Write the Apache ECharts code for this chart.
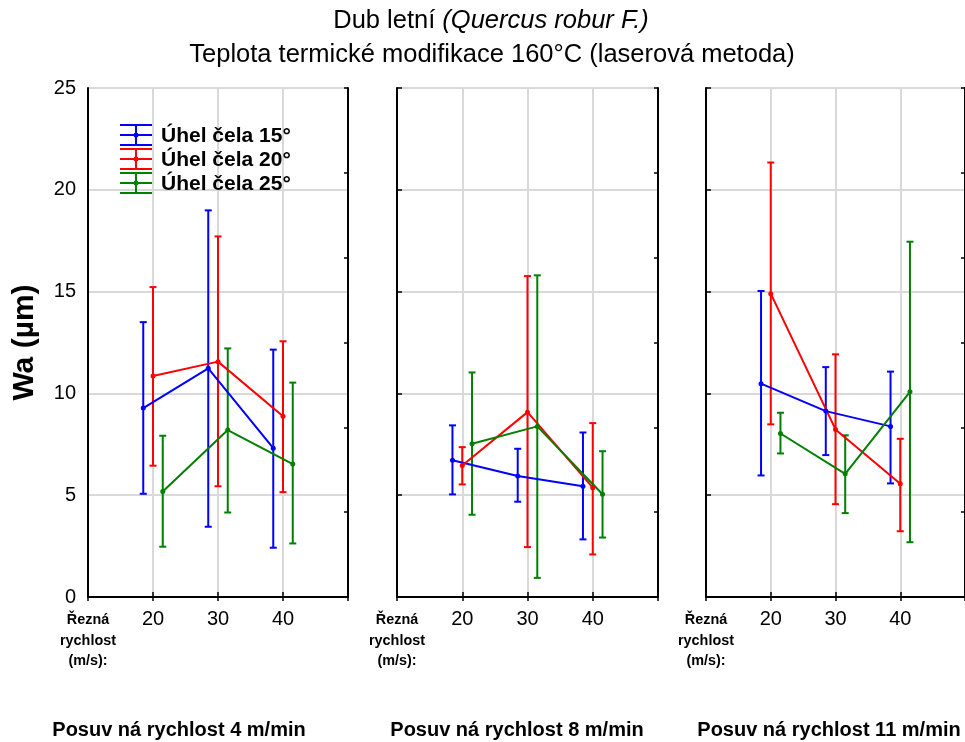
<!DOCTYPE html>
<html>
<head>
<meta charset="utf-8">
<script src="https://cdn.jsdelivr.net/npm/echarts@6/dist/echarts.min.js"></script>
<style>
  html, body { margin: 0; padding: 0; background: #fff; }
  #chart { width: 965px; height: 742px; }
</style>
</head>
<body>
<div id="chart"></div>
<script>
// rezna rychlost (m/s) - kategorie na ose x
var speeds = [20, 30, 40];
var feedLabels = ['Posuv ná rychlost 4 m/min', 'Posuv ná rychlost 8 m/min', 'Posuv ná rychlost 11 m/min'];
var angleNames = ['Úhel čela 15°', 'Úhel čela 20°', 'Úhel čela 25°'];
var yTicks = [0, 5, 10, 15, 20, 25];

// prumery a meze chyb, [uhel][rychlost]
var mean4 = [[9.28, 11.23, 7.31], [10.85, 11.56, 8.88], [5.18, 8.20, 6.53]];
var high4 = [[13.50, 18.99, 12.15], [15.22, 17.71, 12.56], [7.92, 12.21, 10.53]];
var low4 = [[5.07, 3.45, 2.42], [6.45, 5.44, 5.15], [2.47, 4.15, 2.63]];

var mean8 = [[6.72, 5.94, 5.44], [6.46, 9.08, 5.37], [7.53, 8.38, 5.05]];
var high8 = [[8.43, 7.28, 8.08], [7.36, 15.76, 8.54], [11.03, 15.80, 7.16]];
var low8 = [[5.04, 4.68, 2.83], [5.53, 2.45, 2.09], [4.04, 0.94, 2.92]];

var mean11 = [[10.48, 9.13, 8.38], [14.90, 8.23, 5.56], [8.03, 6.05, 10.08]];
var high11 = [[15.03, 11.29, 11.07], [21.34, 11.92, 7.77], [9.05, 7.94, 17.45]];
var low11 = [[5.97, 6.97, 5.58], [8.48, 4.56, 3.23], [7.05, 4.12, 2.69]];

var panels = [
    {mean: mean4, high: high4, low: low4},
    {mean: mean8, high: high8, low: low8},
    {mean: mean11, high: high11, low: low11}
];

var colors = ['#0000ff', '#ff0000', '#008000'];
var dodge = [-1.5, 0, 1.5];   // posun skupin vedle sebe
var font = 'Liberation Sans, Arial, sans-serif';

// rozlozeni panelu
var gridLeft = [88, 397, 706], gridW = [260, 261, 262], gridTop = 88, gridH = 509;
var footCenter = [179, 517, 829];

var myChart = echarts.init(document.getElementById('chart'));

var grids = [], xAxes = [], yAxes = [], series = [], graphics = [];

function errorRender(params, api) {
    var x = api.value(0);
    var top = api.coord([x, api.value(2)]);
    var bot = api.coord([x, api.value(1)]);
    var cap = 3.5;
    var style = {stroke: api.visual('color'), lineWidth: 2};
    return {
        type: 'group',
        children: [
            {type: 'line', shape: {x1: top[0], y1: top[1], x2: bot[0], y2: bot[1]}, style: style},
            {type: 'line', shape: {x1: top[0] - cap, y1: top[1], x2: top[0] + cap, y2: top[1]}, style: style},
            {type: 'line', shape: {x1: bot[0] - cap, y1: bot[1], x2: bot[0] + cap, y2: bot[1]}, style: style}
        ]
    };
}

for (var p = 0; p < 3; p++) {
    grids.push({left: gridLeft[p], top: gridTop, width: gridW[p], height: gridH, containLabel: false});

    // spodni osa
    xAxes.push({
        type: 'value', gridIndex: p, min: 10, max: 50, interval: 10, position: 'bottom',
        axisLine: {lineStyle: {color: '#000', width: 2}},
        axisTick: {inside: true, length: 5, lineStyle: {color: '#000', width: 1.5}},
        axisLabel: {
            color: '#000', fontSize: 20, fontFamily: font, margin: 12,
            showMinLabel: false, showMaxLabel: false
        },
        splitLine: {show: true, lineStyle: {color: '#d9d9d9', width: 2}}
    });
    // horni okraj
    xAxes.push({
        type: 'value', gridIndex: p, min: 10, max: 50, interval: 10, position: 'top',
        axisLine: {lineStyle: {color: '#000', width: 2}},
        axisTick: {inside: true, length: 4, lineStyle: {color: '#000', width: 1.5}},
        axisLabel: {show: false},
        splitLine: {show: false}
    });
    // leva osa
    yAxes.push({
        type: 'value', gridIndex: p, min: 0, max: 25, interval: 5, position: 'left',
        name: p === 0 ? 'Wa (µm)' : '',
        nameLocation: 'middle', nameGap: 48, nameRotate: 90,
        nameTextStyle: {color: '#000', fontSize: 30, fontWeight: 'bold', fontFamily: font},
        axisLine: {lineStyle: {color: '#000', width: 2}},
        axisTick: {show: p > 0, inside: true, length: 5, lineStyle: {color: '#000', width: 1.5}},
        axisLabel: {
            show: p === 0, color: '#000', fontSize: 20, fontFamily: font, margin: 12,
            formatter: function (v) { return yTicks.indexOf(v) >= 0 ? String(v) : ''; }
        },
        splitLine: {show: true, lineStyle: {color: '#d9d9d9', width: 2}}
    });
    // prava osa (jen rysky)
    yAxes.push({
        type: 'value', gridIndex: p, min: 0, max: 6, interval: 1, position: 'right',
        axisLine: {lineStyle: {color: '#000', width: 2}},
        axisTick: {inside: true, length: 4, lineStyle: {color: '#000', width: 1.5}},
        axisLabel: {show: false},
        splitLine: {show: false}
    });

    for (var a = 0; a < 3; a++) {
        var pts = [], bars = [];
        for (var s = 0; s < speeds.length; s++) {
            var xv = speeds[s] + dodge[a];
            pts.push([xv, panels[p].mean[a][s]]);
            bars.push([xv, panels[p].low[a][s], panels[p].high[a][s]]);
        }
        series.push({
            type: 'custom', name: angleNames[a], xAxisIndex: p * 2, yAxisIndex: p * 2,
            renderItem: errorRender, itemStyle: {color: colors[a]},
            encode: {x: 0, y: [1, 2]}, data: bars, z: 2, silent: true
        });
        series.push({
            type: 'line', name: angleNames[a], xAxisIndex: p * 2, yAxisIndex: p * 2,
            data: pts, symbol: 'circle', symbolSize: 5, showSymbol: true,
            lineStyle: {color: colors[a], width: 2}, itemStyle: {color: colors[a]},
            z: 3, silent: true
        });
    }

    // popisek osy x
    graphics.push({
        type: 'text', x: gridLeft[p], y: 610, z: 100,
        style: {
            text: 'Řezná\nrychlost\n(m/s):', align: 'center', verticalAlign: 'top',
            fontSize: 14.4, fontWeight: 'bold', fontFamily: font, lineHeight: 20.5, fill: '#000'
        }
    });
    // nazev panelu
    graphics.push({
        type: 'text', x: footCenter[p], y: 730, z: 100,
        style: {
            text: feedLabels[p], align: 'center', verticalAlign: 'middle',
            fontSize: 20, fontWeight: 'bold', fontFamily: font, fill: '#000'
        }
    });
}

// legenda (ikona chybove usecky)
for (var a = 0; a < 3; a++) {
    var cy = 135 + a * 24, x0 = 120, x1 = 152, cx = 136;
    var st = {stroke: colors[a], lineWidth: 2};
    graphics.push({type: 'line', z: 100, shape: {x1: x0, y1: cy - 10, x2: x1, y2: cy - 10}, style: st});
    graphics.push({type: 'line', z: 100, shape: {x1: x0, y1: cy, x2: x1, y2: cy}, style: st});
    graphics.push({type: 'line', z: 100, shape: {x1: x0, y1: cy + 10, x2: x1, y2: cy + 10}, style: st});
    graphics.push({type: 'line', z: 100, shape: {x1: cx, y1: cy - 10, x2: cx, y2: cy + 10}, style: st});
    graphics.push({type: 'circle', z: 100, shape: {cx: cx, cy: cy, r: 2.5}, style: {fill: colors[a]}});
    graphics.push({
        type: 'text', x: 161, y: cy + 1, z: 100,
        style: {
            text: angleNames[a], verticalAlign: 'middle',
            fontSize: 21, fontWeight: 'bold', fontFamily: font, fill: '#000'
        }
    });
}

// titulek
graphics.push({
    type: 'text', x: 491, y: 21, z: 100,
    style: {
        text: '{n|Dub letní }{i|(Quercus robur F.)}', align: 'center', verticalAlign: 'middle',
        rich: {
            n: {fontSize: 25.5, fontFamily: font, fill: '#000'},
            i: {fontSize: 25.5, fontFamily: font, fontStyle: 'italic', fill: '#000'}
        }
    }
});
graphics.push({
    type: 'text', x: 492, y: 55, z: 100,
    style: {
        text: 'Teplota termické modifikace 160°C (laserová metoda)', align: 'center', verticalAlign: 'middle',
        fontSize: 25.5, fontFamily: font, fill: '#000'
    }
});

var option = {
    backgroundColor: '#fff',
    animation: false,
    grid: grids,
    xAxis: xAxes,
    yAxis: yAxes,
    series: series,
    graphic: graphics
};

myChart.setOption(option);
</script>
</body>
</html>
